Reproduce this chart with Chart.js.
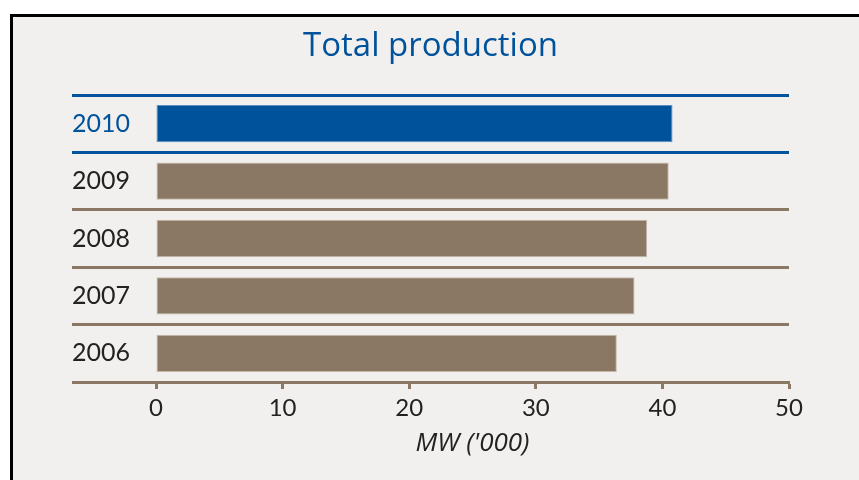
<!DOCTYPE html>
<html>
<head>
<meta charset="utf-8">
<script src="https://cdn.jsdelivr.net/npm/chart.js@4"></script>
<style>
  html, body { margin: 0; padding: 0; background: #ffffff; }
  body { width: 859px; height: 480px; position: relative; overflow: hidden; }
  .frame {
    position: absolute; left: 10px; top: 14px; right: 0; bottom: 0;
    border-left: 3px solid #000; border-top: 3px solid #000;
    background: #f2f0ee;
  }
  .wrap { position: absolute; left: 0; top: 0; width: 859px; height: 480px; }
</style>
</head>
<body>
<div class="frame"></div>
<div class="wrap"><canvas id="prodChart" width="859" height="480"></canvas></div>
<script>
const years = ['2010', '2009', '2008', '2007', '2006'];
const production = [40.8, 40.5, 38.8, 37.8, 36.4];
const xTicks = [0, 10, 20, 30, 40, 50];

const blue = '#00529b';
const brown = '#8a7865';
const textDark = '#222222';

const ctx = document.getElementById('prodChart');

new Chart(ctx, {
    type: 'bar',
    data: {
        labels: years,
        datasets: [{
            data: production,
            backgroundColor: years.map((y, i) => i === 0 ? blue : brown),
            borderColor: years.map((y, i) => i === 0 ? '#5d8cc0' : '#c4b8ab'),
            borderWidth: 1,
            borderSkipped: false,
            barPercentage: 0.65,
            categoryPercentage: 1
        }]
    },
    options: {
        indexAxis: 'y',
        responsive: false,
        animation: false,
        devicePixelRatio: 1,
        layout: { padding: { left: 72, right: 70, top: 0, bottom: 21 } },
        plugins: {
            legend: { display: false },
            tooltip: { enabled: false },
            title: {
                display: true,
                text: 'Total production',
                color: blue,
                font: { family: 'Open Sans', size: 33, weight: 'normal' },
                padding: { top: 27, bottom: 28.4 }
            }
        },
        scales: {
            x: {
                min: xTicks[0],
                max: xTicks[xTicks.length - 1],
                ticks: {
                    stepSize: xTicks[1] - xTicks[0],
                    color: textDark,
                    font: { family: 'Lato', size: 24 },
                    padding: 5
                },
                grid: {
                    drawOnChartArea: false,
                    drawTicks: true,
                    tickLength: 7,
                    tickWidth: 3,
                    tickColor: brown
                },
                border: { display: true, color: brown, width: 3 },
                title: {
                    display: true,
                    text: "MW ('000)",
                    color: textDark,
                    font: { family: 'Open Sans', size: 26, style: 'italic' },
                    padding: { top: 0, bottom: 0 }
                }
            },
            y: {
                afterFit: (scale) => { scale.width = 84; },
                ticks: {
                    crossAlign: 'far',
                    padding: 0,
                    color: (c) => c.index === 0 ? blue : textDark,
                    font: { family: 'Lato', size: 25 }
                },
                grid: {
                    offset: true,
                    lineWidth: 3,
                    tickLength: 84,
                    color: (c) => c.index === 0 || c.index === 1 ? blue : brown
                },
                border: { display: false }
            }
        }
    }
});
</script>
</body>
</html>
